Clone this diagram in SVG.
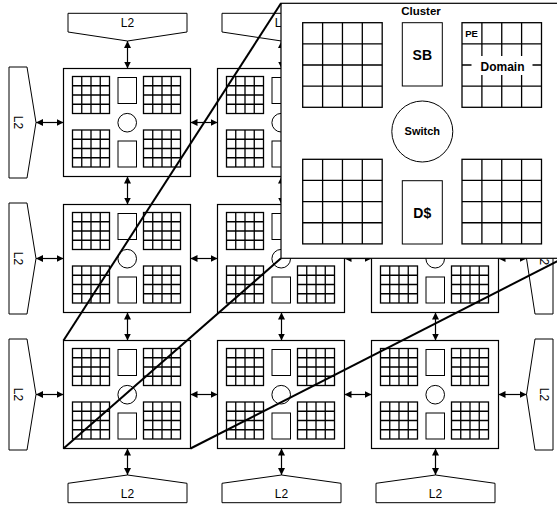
<svg xmlns="http://www.w3.org/2000/svg" xmlns:xlink="http://www.w3.org/1999/xlink" width="557" height="506" viewBox="0 0 557 506">
<style>
.ln{fill:none;stroke:#000;stroke-width:1}
.gr{fill:none;stroke:#000;stroke-width:1.3}
.bx{fill:#fff;stroke:#000;stroke-width:1.2}
.l2{fill:#fff;stroke:#000;stroke-width:1}
.ar{fill:none;stroke:#000;stroke-width:1.2;marker-start:url(#ah);marker-end:url(#ah)}
.zl{fill:none;stroke:#000;stroke-width:2}
.tx{font-family:"Liberation Sans",Arial,sans-serif;font-size:12px;fill:#000;text-anchor:middle}
.b{font-weight:bold}
</style>
<defs>
<marker id="ah" markerUnits="userSpaceOnUse" markerWidth="8" markerHeight="8" refX="7" refY="3.5" orient="auto-start-reverse" viewBox="0 0 8 8">
<path d="M0,0 L7,3.5 L0,7 Z" fill="#000"/>
</marker>
<g id="sg" class="gr">
<rect width="37" height="37"/>
<path d="M9.25 0V37M18.5 0V37M27.75 0V37M0 9.25H37M0 18.5H37M0 27.75H37"/>
</g>
<g id="bg" class="gr">
<rect width="79.5" height="84.6"/>
<path d="M19.9 0V84.6M39.75 0V84.6M59.6 0V84.6M0 21.15H79.5M0 42.3H79.5M0 63.45H79.5"/>
</g>
<g id="tile">
<rect class="bx" width="127" height="108"/>
<use href="#sg" x="9" y="8"/>
<use href="#sg" x="80" y="8"/>
<use href="#sg" x="9" y="61.5"/>
<use href="#sg" x="80" y="61.5"/>
<rect class="ln" x="54.5" y="9" width="18.5" height="26"/>
<rect class="ln" x="54.5" y="72.5" width="18.5" height="26"/>
<circle class="ln" cx="63.7" cy="54.2" r="9.3"/>
</g>
</defs>
<rect width="557" height="506" fill="#fff"/>

<g id="l2-top-0"><path class="l2" d="M68 13.3H187V32L127.5 41L68 32Z"/><text class="tx" x="127.5" y="26.7">L2</text></g>
<g id="l2-top-1"><path class="l2" d="M222 13.3H341V32L281.5 41L222 32Z"/><text class="tx" x="281.5" y="26.7">L2</text></g>
<g id="l2-top-2"><path class="l2" d="M376 13.3H495V32L435.5 41L376 32Z"/><text class="tx" x="435.5" y="26.7">L2</text></g>
<g id="l2-bottom-0"><path class="l2" d="M68 502.7H187V483.3L127.5 475L68 483.3Z"/><text class="tx" x="127.5" y="497.5">L2</text></g>
<g id="l2-bottom-1"><path class="l2" d="M222 502.7H341V483.3L281.5 475L222 483.3Z"/><text class="tx" x="281.5" y="497.5">L2</text></g>
<g id="l2-bottom-2"><path class="l2" d="M376 502.7H495V483.3L435.5 475L376 483.3Z"/><text class="tx" x="435.5" y="497.5">L2</text></g>
<g id="l2-left-0"><path class="l2" d="M9 67H27L36 122.5L27 178H9Z"/><text class="tx" transform="translate(13.8,122.5) rotate(90)">L2</text></g>
<g id="l2-left-1"><path class="l2" d="M9 203H27L36 258.5L27 314H9Z"/><text class="tx" transform="translate(13.8,258.5) rotate(90)">L2</text></g>
<g id="l2-left-2"><path class="l2" d="M9 339H27L36 394.5L27 450H9Z"/><text class="tx" transform="translate(13.8,394.5) rotate(90)">L2</text></g>
<g id="l2-right-0"><path class="l2" d="M553 67H535L526.5 122.5L535 178H553Z"/><text class="tx" transform="translate(539.7,122.5) rotate(90)">L2</text></g>
<g id="l2-right-1"><path class="l2" d="M553 203H535L526.5 258.5L535 314H553Z"/><text class="tx" transform="translate(539.7,258.5) rotate(90)">L2</text></g>
<g id="l2-right-2"><path class="l2" d="M553 339H535L526.5 394.5L535 450H553Z"/><text class="tx" transform="translate(539.7,394.5) rotate(90)">L2</text></g>

<g id="cluster-r0c0"><use href="#tile" x="63.5" y="68.5"/></g>
<g id="cluster-r0c1"><use href="#tile" x="217.5" y="68.5"/></g>
<g id="cluster-r0c2"><use href="#tile" x="371.5" y="68.5"/></g>
<g id="cluster-r1c0"><use href="#tile" x="63.5" y="204.5"/></g>
<g id="cluster-r1c1"><use href="#tile" x="217.5" y="204.5"/></g>
<g id="cluster-r1c2"><use href="#tile" x="371.5" y="204.5"/></g>
<g id="cluster-r2c0"><use href="#tile" x="63.5" y="340.5"/></g>
<g id="cluster-r2c1"><use href="#tile" x="217.5" y="340.5"/></g>
<g id="cluster-r2c2"><use href="#tile" x="371.5" y="340.5"/></g>

<g id="connectors">
<path class="ar" d="M127.5 41V68.5"/>
<path class="ar" d="M281.5 41V68.5"/>
<path class="ar" d="M435.5 41V68.5"/>
<path class="ar" d="M127.5 176.5V204.5"/>
<path class="ar" d="M281.5 176.5V204.5"/>
<path class="ar" d="M435.5 176.5V204.5"/>
<path class="ar" d="M127.5 312.5V340.5"/>
<path class="ar" d="M281.5 312.5V340.5"/>
<path class="ar" d="M435.5 312.5V340.5"/>
<path class="ar" d="M127.5 448.5V475"/>
<path class="ar" d="M281.5 448.5V475"/>
<path class="ar" d="M435.5 448.5V475"/>
<path class="ar" d="M36 122.5H63.5"/>
<path class="ar" d="M190.5 122.5H217.5"/>
<path class="ar" d="M344.5 122.5H371.5"/>
<path class="ar" d="M498.5 122.5H526.5"/>
<path class="ar" d="M36 258.5H63.5"/>
<path class="ar" d="M190.5 258.5H217.5"/>
<path class="ar" d="M344.5 258.5H371.5"/>
<path class="ar" d="M498.5 258.5H526.5"/>
<path class="ar" d="M36 394.5H63.5"/>
<path class="ar" d="M190.5 394.5H217.5"/>
<path class="ar" d="M344.5 394.5H371.5"/>
<path class="ar" d="M498.5 394.5H526.5"/>
</g>

<g id="cluster-detail">
<rect class="bx" x="281" y="3.3" width="282" height="255"/>
<text class="tx b" x="421" y="15" style="font-size:11.5px">Cluster</text>
<use href="#bg" x="302.7" y="22.7"/>
<use href="#bg" x="462" y="22.7"/>
<use href="#bg" x="302.7" y="159.3"/>
<use href="#bg" x="462" y="159.3"/>
<rect class="ln" x="402.3" y="22.7" width="40" height="63.3"/>
<rect class="ln" x="402.3" y="180.7" width="40" height="63.3"/>
<circle class="ln" cx="422.3" cy="131.5" r="30.5"/>
<text class="tx b" x="422.3" y="60" style="font-size:14px">SB</text>
<text class="tx b" x="422.3" y="218.3" style="font-size:14px">D$</text>
<text class="tx b" x="422.3" y="135" style="font-size:11px">Switch</text>
<text class="tx b" x="471.5" y="36.7" style="font-size:9.5px">PE</text>
<rect x="471.5" y="56" width="61" height="19" fill="#fff"/>
<text class="tx b" x="502.5" y="70.5" style="font-size:12px">Domain</text>
</g>

<g id="zoom-lines">
<path class="zl" d="M63.5 340.5L281 3.3"/>
<path class="zl" d="M63.5 448.5L281 258.3"/>
<path class="zl" d="M190.5 448.5L563 258.3"/>
</g>
</svg>
